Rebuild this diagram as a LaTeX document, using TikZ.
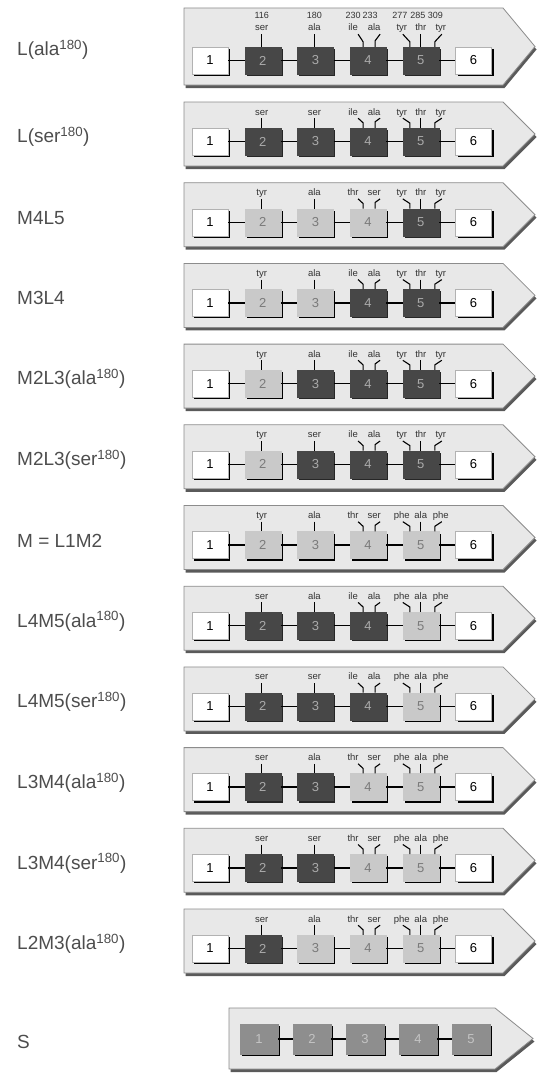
\documentclass[tikz,border=0pt]{standalone}
\usepackage{fontspec}
\setmainfont{Liberation Sans}
\usetikzlibrary{calc,shadows}
\definecolor{bannerfill}{HTML}{E8E8E8}
\definecolor{bannerline}{HTML}{8C8C8C}
\definecolor{bannershadow}{HTML}{5A5A5A}
\definecolor{darkbox}{HTML}{474747}
\definecolor{darknum}{HTML}{AAAAAA}
\definecolor{lightbox}{HTML}{C9C9C9}
\definecolor{lightnum}{HTML}{7A7A7A}
\definecolor{sbox}{HTML}{8E8E8E}
\definecolor{snum}{HTML}{C4C4C4}
\definecolor{labgray}{HTML}{4D4D4D}
\definecolor{resgray}{HTML}{333333}
\tikzset{
  rowlabel/.style={font=\fontsize{19}{22}\selectfont, text=labgray, inner sep=0pt, anchor=west},
  reslab/.style={font=\fontsize{9.5}{10}\selectfont, text=resgray, inner sep=0pt, anchor=base, text depth=0pt},
  numlab/.style={font=\fontsize{9}{9}\selectfont, text=resgray, inner sep=0pt, anchor=base},
  boxbase/.style={minimum width=36pt, minimum height=27pt, inner sep=0pt,
    font=\fontsize{13}{13}\selectfont,
    drop shadow={shadow xshift=2pt, shadow yshift=-2pt, fill=#1, opacity=1}},
  wbox/.style={boxbase=black, fill=white, draw=gray!60, text=black},
  dkbox/.style={boxbase=black!85, fill=darkbox, draw=darkbox, text=darknum},
  ltbox/.style={boxbase=black, fill=lightbox, draw=lightbox, text=lightnum},
  sgbox/.style={boxbase=black, fill=sbox, draw=sbox, text=snum, minimum width=38pt, minimum height=30pt},
  conn/.style={line width=1.4pt, black},
  stem/.style={line width=1.1pt, black},
  banner/.style={fill=bannerfill, draw=bannerline, line width=0.8pt},
  bshadow/.style={fill=bannershadow},
}
\def\labBdk{ser}\def\labBlt{tyr}
\def\labDAdk{ile}\def\labDBdk{ala}\def\labDAlt{thr}\def\labDBlt{ser}
\def\labEAdk{tyr}\def\labEBdk{thr}\def\labECdk{tyr}
\def\labEAlt{phe}\def\labEBlt{ala}\def\labEClt{phe}
% #1 id, #2 top, #3 name, #4-#7 types of boxes 2-5, #8 label of box 3, #9 first-row flag
\newcommand\oprow[9]{%
  \pgfmathsetmacro\rT{#2}%
  \ifnum#9=1 \def\rd{13}\def\re{10}\else\def\rd{0}\def\re{0}\fi
  \pgfmathsetmacro\rB{\rT+64+\rd}%
  \pgfmathsetmacro\rM{(\rT+\rB)/2}%
  \pgfmathsetmacro\rY{\rT+39.5+\rd}%
  \pgfmathsetmacro\rL{\rT+13+\re}%
  \fill[bshadow] (185.5,\rT+3) -- (504.5,\rT+3) -- (536.5,\rM+3) -- (504.5,\rB+3) -- (185.5,\rB+3) -- cycle;
  \filldraw[banner] (184,\rT) -- (503,\rT) -- (535,\rM) -- (503,\rB) -- (184,\rB) -- cycle;
  \node[rowlabel] (#1name) at (17,\rM+3) {#3};
  \node[wbox] (#1b1) at (210,\rY) {1};
  \node[#4box] (#1b2) at (262.7,\rY) {2};
  \node[#5box] (#1b3) at (315.4,\rY) {3};
  \node[#6box] (#1b4) at (368.1,\rY) {4};
  \node[#7box] (#1b5) at (420.8,\rY) {5};
  \node[wbox] (#1b6) at (473.5,\rY) {6};
  \draw[conn] (#1b1.east) -- (#1b2.west);
  \draw[conn] (#1b2.east) -- (#1b3.west);
  \draw[conn] (#1b3.east) -- (#1b4.west);
  \draw[conn] (#1b4.east) -- (#1b5.west);
  \draw[conn] (#1b5.east) -- (#1b6.west);
  \node[reslab] (#1l2) at (261.7,\rL) {\csname labB#4\endcsname};
  \node[reslab] (#1l3) at (314.4,\rL) {#8};
  \node[reslab] (#1l4a) at (353.1,\rL) {\csname labDA#6\endcsname};
  \node[reslab] (#1l4b) at (374.1,\rL) {\csname labDB#6\endcsname};
  \node[reslab] (#1l5a) at (401.8,\rL) {\csname labEA#7\endcsname};
  \node[reslab] (#1l5b) at (420.8,\rL) {\csname labEB#7\endcsname};
  \node[reslab] (#1l5c) at (440.8,\rL) {\csname labEC#7\endcsname};
  \draw[stem] ([yshift=-3pt]#1l2.south) -- (#1l2.south |- #1b2.north);
  \draw[stem] ([yshift=-3pt]#1l3.south) -- (#1l3.south |- #1b3.north);
  \draw[stem] ([xshift=5pt,yshift=-3pt]#1l4a.south) -- ([xshift=-5pt,yshift=5pt]#1b4.north) -- ([xshift=-5pt]#1b4.north);
  \draw[stem] ([xshift=6pt,yshift=-3pt]#1l4b.south) -- ([xshift=7pt,yshift=6pt]#1b4.north) -- ([xshift=7pt]#1b4.north);
  \draw[stem] ([xshift=1pt,yshift=-3pt]#1l5a.south) -- ([xshift=-11pt,yshift=5pt]#1b5.north) -- ([xshift=-11pt]#1b5.north);
  \draw[stem] ([yshift=-3pt]#1l5b.south) -- (#1l5b.south |- #1b5.north);
  \draw[stem] ([xshift=1pt,yshift=-3pt]#1l5c.south) -- ([xshift=14pt,yshift=5pt]#1b5.north) -- ([xshift=14pt]#1b5.north);
}
\begin{document}
\begin{tikzpicture}[x=1pt,y=-1pt]
\useasboundingbox (0,0) rectangle (536,1073);
\oprow{ra}{8}{L(ala\textsuperscript{180})}{dk}{dk}{dk}{dk}{ala}{1}
\node[numlab] (na2) at (261.7,19) {116};
\node[numlab] (na3) at (314.4,19) {180};
\node[numlab] (na4a) at (353.1,19) {230};
\node[numlab] (na4b) at (370.1,19) {233};
\node[numlab] (na5a) at (399.8,19) {277};
\node[numlab] (na5b) at (417.8,19) {285};
\node[numlab] (na5c) at (435.3,19) {309};
\oprow{rb}{102}{L(ser\textsuperscript{180})}{dk}{dk}{dk}{dk}{ser}{0}
\oprow{rc}{182.7}{M4L5}{lt}{lt}{lt}{dk}{ala}{0}
\oprow{rd}{263.4}{M3L4}{lt}{lt}{dk}{dk}{ala}{0}
\oprow{re}{344.1}{M2L3(ala\textsuperscript{180})}{lt}{dk}{dk}{dk}{ala}{0}
\oprow{rf}{424.8}{M2L3(ser\textsuperscript{180})}{lt}{dk}{dk}{dk}{ser}{0}
\oprow{rg}{505.5}{M = L1M2}{lt}{lt}{lt}{lt}{ala}{0}
\oprow{rh}{586.2}{L4M5(ala\textsuperscript{180})}{dk}{dk}{dk}{lt}{ala}{0}
\oprow{ri}{666.9}{L4M5(ser\textsuperscript{180})}{dk}{dk}{dk}{lt}{ser}{0}
\oprow{rj}{747.6}{L3M4(ala\textsuperscript{180})}{dk}{dk}{lt}{lt}{ala}{0}
\oprow{rk}{828.3}{L3M4(ser\textsuperscript{180})}{dk}{dk}{lt}{lt}{ser}{0}
\oprow{rl}{909}{L2M3(ala\textsuperscript{180})}{dk}{lt}{lt}{lt}{ala}{0}
% S row
\fill[bshadow] (230.5,1011) -- (496.5,1011) -- (534.5,1041.5) -- (496.5,1072) -- (230.5,1072) -- cycle;
\filldraw[banner] (229,1008) -- (495,1008) -- (533,1038.5) -- (495,1069) -- (229,1069) -- cycle;
\node[rowlabel] (sname) at (17,1041.5) {S};
\node[sgbox] (s1) at (259,1039) {1};
\node[sgbox] (s2) at (312,1039) {2};
\node[sgbox] (s3) at (365,1039) {3};
\node[sgbox] (s4) at (418,1039) {4};
\node[sgbox] (s5) at (471,1039) {5};
\draw[conn] (s1.east) -- (s2.west);
\draw[conn] (s2.east) -- (s3.west);
\draw[conn] (s3.east) -- (s4.west);
\draw[conn] (s4.east) -- (s5.west);
\end{tikzpicture}
\end{document}
